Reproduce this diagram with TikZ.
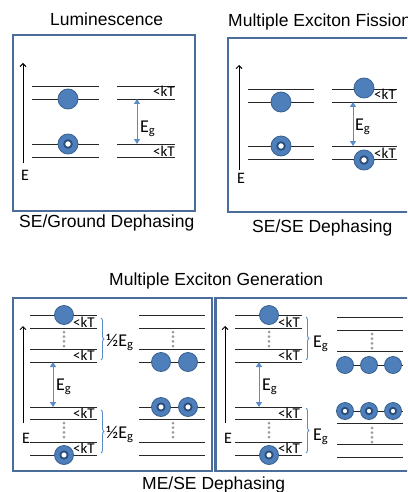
\documentclass[tikz,border=0pt]{standalone}
\usepackage{fontspec}
\setmainfont{Liberation Sans}
\newfontfamily\calib{Carlito}
\usetikzlibrary{arrows.meta,decorations.pathreplacing}
\definecolor{boxc}{HTML}{4A6D9B}
\definecolor{blobf}{HTML}{4F7FBA}
\definecolor{blobd}{HTML}{36608F}
\definecolor{holed}{HTML}{2A4E7C}
\definecolor{arrc}{HTML}{5B8CC8}
\definecolor{dotc}{HTML}{9A9A9A}
\tikzset{
  panel/.style={draw=boxc, line width=2.5pt},
  lvl/.style={draw=black!85, line width=0.9pt},
  axis/.style={draw=black, line width=0.9pt, -{Straight Barb[length=3pt,width=6pt]}},
  gaparrow/.style={draw=arrc, line width=1pt, {Triangle[length=5pt,width=6pt]}-{Triangle[length=5pt,width=6pt]}},
  bracec/.style={draw=arrc, line width=0.9pt, decorate, decoration={brace, amplitude=3pt}},
  blob/.style={fill=blobf, draw=blobd, line width=0.8pt},
  holein/.style={fill=white, draw=holed, line width=1.8pt},
  ttl/.style={anchor=base west, inner sep=0pt, font=\fontsize{17.5}{20}\selectfont},
  kt/.style={anchor=base east, inner sep=0pt, font=\calib\fontsize{15}{17}\selectfont},
  eglab/.style={anchor=base west, inner sep=0pt, font=\calib\fontsize{18}{20}\selectfont},
  elab/.style={anchor=base west, inner sep=0pt, font=\calib\fontsize{16}{18}\selectfont}
}
\newcommand\elec[3]{\path[blob] (#1,#2) circle (#3pt);}
\newcommand\hole[3]{\path[blob] (#1,#2) circle (#3pt); \path[holein] (#1,#2) circle ({#3*0.38pt});}
\newcommand\dotcol[2]{\foreach \k in {0,1,2,3} \fill[dotc] (#1,{#2+\k*4.7}) circle (1.5pt);}
\begin{document}
\begin{tikzpicture}[x=1pt,y=-1pt]
\useasboundingbox (0,0) rectangle (407,492);
\clip (0,0) rectangle (407,492);
% ---------- titles ----------
\node[ttl] (t1) at (50,26) {Luminescence};
\node[ttl] (t2) at (228,27) {Multiple Exciton Fission};
\node[ttl] (t3) at (19,227) {SE/Ground Dephasing};
\node[ttl] (t4) at (252,232) {SE/SE Dephasing};
\node[ttl] (t5) at (109,285) {Multiple Exciton Generation};
\node[ttl] (t6) at (142,489) {ME/SE Dephasing};
% ---------- panels ----------
\draw[panel] (13,35) rectangle (195,211);
\draw[panel] (228,38) rectangle (440,212);
\draw[panel] (13,298) rectangle (212,471);
\draw[panel] (215.5,298) rectangle (440,471);
% ================= Panel 1 =================
\coordinate (a1s) at (23,163); \coordinate (a1e) at (23,63);
\draw[axis] (a1s) -- (a1e);
\node[elab] (e1) at (21,180) {E};
\foreach \yy in {86,99,144,157} {\draw[lvl] (32,\yy) -- (99,\yy); \draw[lvl] (117,\yy) -- (175,\yy);}
\elec{68}{99}{10}
\hole{68}{144}{10}
\coordinate (g1t) at (137,99); \coordinate (g1b) at (137,144);
\draw[gaparrow] (g1t) -- (g1b);
\node[eglab] (eg1) at (140,132) {E\textsubscript{g}};
\node[kt] (k11) at (175,97) {<kT};
\node[kt] (k12) at (175,156) {<kT};
% ================= Panel 2 =================
\coordinate (a2s) at (239,170); \coordinate (a2e) at (239,65);
\draw[axis] (a2s) -- (a2e);
\node[elab] (e2) at (237,183) {E};
\foreach \yy in {89,102,146,159} {\draw[lvl] (248,\yy) -- (314,\yy); \draw[lvl] (332,\yy) -- (397,\yy);}
\elec{281}{102}{10}
\hole{281}{146}{10}
\elec{364}{88}{10}
\hole{364}{160}{10}
\coordinate (g2t) at (353,102); \coordinate (g2b) at (353,146);
\draw[gaparrow] (g2t) -- (g2b);
\node[eglab] (eg2) at (355,130) {E\textsubscript{g}};
\node[kt] (k21) at (396,100) {<kT};
\node[kt] (k22) at (396,158) {<kT};
% ================= Panel 3 =================
\coordinate (a3s) at (23,423); \coordinate (a3e) at (23,326);
\draw[axis] (a3s) -- (a3e);
\node[elab] (e3) at (22,443) {E};
\foreach \yy in {315,328,349,362,407,419,442,455} {\draw[lvl] (30,\yy) -- (97,\yy); \draw[lvl] (139,\yy) -- (205,\yy);}
\dotcol{64}{332}
\dotcol{64}{423}
\dotcol{173}{332}
\dotcol{173}{423}
\elec{64}{315}{9.5}
\hole{64}{455}{9.5}
\elec{161}{362}{9.5}
\elec{188}{362}{9.5}
\hole{161}{407}{9.5}
\hole{188}{407}{9.5}
\coordinate (g3t) at (53,362); \coordinate (g3b) at (53,407);
\draw[gaparrow] (g3t) -- (g3b);
\node[eglab] (eg3) at (56,390) {E\textsubscript{g}};
\node[kt] (k31) at (95,327) {<kT};
\node[kt] (k32) at (95,360) {<kT};
\node[kt] (k33) at (95,418) {<kT};
\node[kt] (k34) at (95,453) {<kT};
\coordinate (b3a) at (101,318); \coordinate (b3b) at (101,360);
\coordinate (b3c) at (101,410); \coordinate (b3d) at (101,453);
\draw[bracec] (b3a) -- (b3b);
\draw[bracec] (b3c) -- (b3d);
\node[eglab] (h31) at (106,346) {½E\textsubscript{g}};
\node[eglab] (h32) at (106,438) {½E\textsubscript{g}};
% ================= Panel 4 =================
\coordinate (a4s) at (225,423); \coordinate (a4e) at (225,326);
\draw[axis] (a4s) -- (a4e);
\node[elab] (e4) at (224,443) {E};
\foreach \yy in {315,328,349,362,407,419,442,455} {\draw[lvl] (235,\yy) -- (302,\yy);}
\foreach \yy in {317,330,351,365,411,423,444,457} {\draw[lvl] (337,\yy) -- (403,\yy);}
\dotcol{269}{332}
\dotcol{269}{423}
\dotcol{372}{334}
\dotcol{372}{428}
\elec{269}{315}{9.5}
\hole{269}{455}{9.5}
\elec{345}{365}{8.5}
\elec{369}{365}{8.5}
\elec{393}{365}{8.5}
\hole{345}{411}{8.5}
\hole{369}{411}{8.5}
\hole{393}{411}{8.5}
\coordinate (g4t) at (259,362); \coordinate (g4b) at (259,407);
\draw[gaparrow] (g4t) -- (g4b);
\node[eglab] (eg4) at (262,390) {E\textsubscript{g}};
\node[kt] (k41) at (300,327) {<kT};
\node[kt] (k42) at (300,360) {<kT};
\node[kt] (k43) at (300,418) {<kT};
\node[kt] (k44) at (300,453) {<kT};
\coordinate (b4a) at (306,317); \coordinate (b4b) at (306,360);
\coordinate (b4c) at (306,408); \coordinate (b4d) at (306,453);
\draw[bracec] (b4a) -- (b4b);
\draw[bracec] (b4c) -- (b4d);
\node[eglab] (h41) at (313,347) {E\textsubscript{g}};
\node[eglab] (h42) at (313,440) {E\textsubscript{g}};
\end{tikzpicture}
\end{document}
